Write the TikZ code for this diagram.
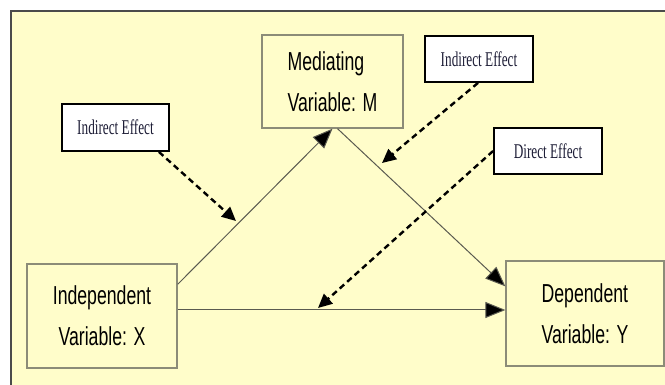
\documentclass[tikz,border=0pt]{standalone}
\usepackage{fontspec}
\setmainfont{Liberation Sans}
\newfontfamily\varfont[FakeStretch=0.68]{Liberation Sans}
\newfontfamily\efffont[FakeStretch=0.63]{Liberation Serif}
\usetikzlibrary{arrows.meta}
\definecolor{bgyellow}{RGB}{255,253,202}
\definecolor{frameline}{RGB}{75,75,75}
\definecolor{boxline}{RGB}{140,140,120}
\definecolor{efftext}{RGB}{30,30,55}
\definecolor{conn}{RGB}{90,90,80}
\begin{document}
\begin{tikzpicture}[x=1pt,y=-1pt,
  varbox/.style={draw=boxline, line width=1.3pt, fill=bgyellow, inner sep=0pt, align=left,
    font=\varfont\fontsize{26}{41}\selectfont, text=black},
  effbox/.style={draw=black, line width=1.8pt, fill=white, inner sep=0pt,
    font=\efffont\fontsize{21}{24}\selectfont, text=efftext},
  solidarrow/.style={draw=conn, line width=1pt, -{Triangle[length=20pt,width=16pt,fill=black]}},
  dasharrow/.style={draw=black, line width=2.4pt, dash pattern=on 6pt off 4pt,
    -{Triangle[length=14pt,width=13pt]}}]
\useasboundingbox (0,0) rectangle (665,385);
\fill[white] (0,0) rectangle (665,385);
\begin{scope}
  \clip (0,0) rectangle (665,385);
  \draw[frameline, line width=2pt, fill=bgyellow] (11,11) rectangle (690,400);
\end{scope}
% variable boxes
\node[varbox, minimum width=141pt, minimum height=93pt] (M) at (332.5,81.5) {Mediating\\Variable: M};
\node[varbox, minimum width=150pt, minimum height=104pt, align=center] (X) at (102,316) {Independent\\Variable: X};
\node[varbox, minimum width=158pt, minimum height=105pt] (Y) at (585,313.5) {Dependent\\Variable: Y};
% effect boxes
\node[effbox, minimum width=108pt, minimum height=46pt] (IE1) at (479,59) {Indirect Effect};
\node[effbox, minimum width=107pt, minimum height=47pt] (IE2) at (115.5,127.5) {Indirect Effect};
\node[effbox, minimum width=108pt, minimum height=46pt] (DE) at (548,151) {Direct Effect};
% solid connectors
\draw[solidarrow] ([yshift=-21pt]X.north east) -- (M.south);
\draw[solidarrow] ([xshift=5pt]M.south) -- ([yshift=-26pt]Y.north west);
\draw[solidarrow] ([yshift=6pt]X.east) -- ([yshift=3.5pt]Y.west);
% dashed connectors
\coordinate (t1) at (236,221);
\coordinate (t2) at (382,163);
\coordinate (t3) at (318,308);
\draw[dasharrow] ([xshift=-11pt]IE2.south east) -- (t1);
\draw[dasharrow] ([xshift=-1pt]IE1.south) -- (t2);
\draw[dasharrow] (DE.west) -- (t3);
\end{tikzpicture}
\end{document}
